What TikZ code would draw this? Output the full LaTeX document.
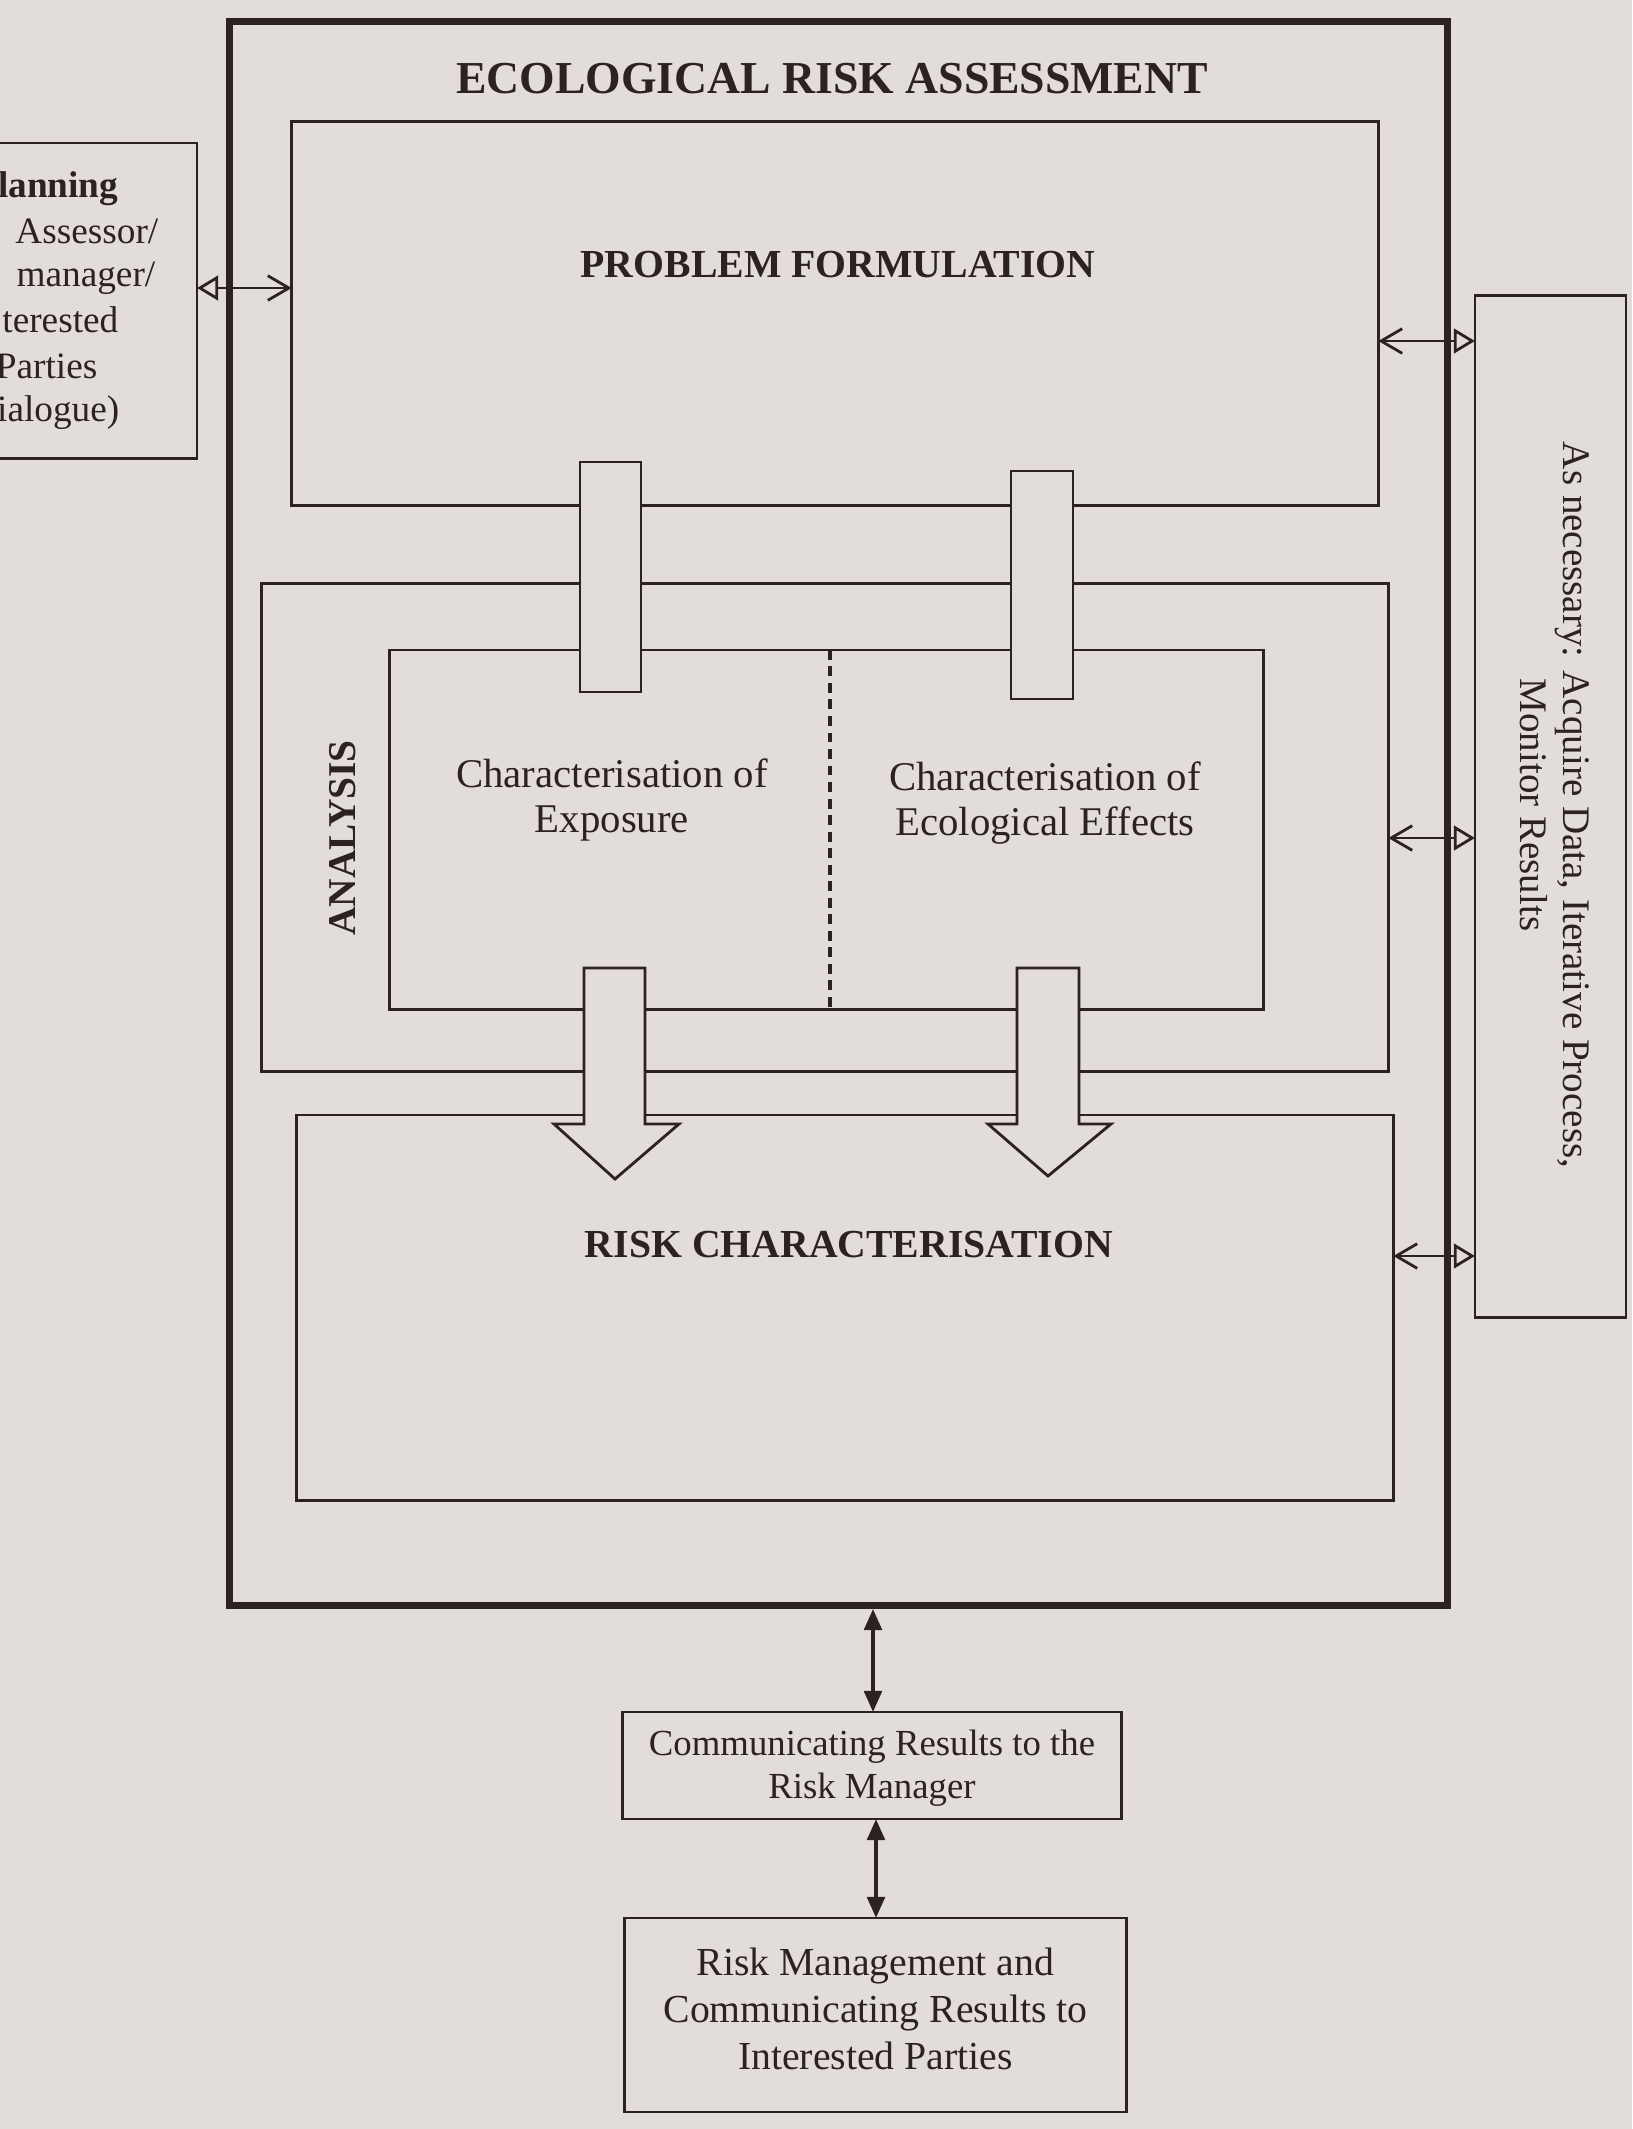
\documentclass[tikz,border=0pt]{standalone}
\usepackage{fontspec}
\setmainfont{Liberation Serif}
\usetikzlibrary{arrows.meta}
\definecolor{paper}{RGB}{226,221,219}
\definecolor{ink}{RGB}{45,34,34}

\tikzset{
  thinline/.style={draw=ink, line width=0.8pt},
  box/.style={thinline, rectangle, inner sep=0pt, outer sep=0pt},
  frame/.style={draw=ink, line width=2pt, rectangle, inner sep=0pt, outer sep=0pt},
  body/.style={font=\fontsize{11}{12.6}\selectfont, align=center, text=ink, inner sep=0pt},
  planline/.style={font=\fontsize{10.6}{12.8}\selectfont, text=ink, inner sep=0pt, anchor=base east},
  head/.style={font=\bfseries\fontsize{11.3}{13}\selectfont, text=ink, inner sep=0pt},
  linkL/.style={thinline, {Triangle[open,length=6pt,width=7pt]}-{Straight Barb[length=6pt,width=7pt]}},
  linkR/.style={thinline, {Straight Barb[length=6pt,width=7pt]}-{Triangle[open,length=6pt,width=7pt]}},
  both/.style={draw=ink, line width=1.1pt, {Triangle[length=6pt,width=5pt]}-{Triangle[length=6pt,width=5pt]}},
  blockarrow/.style={thinline, fill=paper, line join=miter},
}

\begin{document}
\begin{tikzpicture}[x=0.01cm, y=-0.01cm]
\useasboundingbox (0,0) rectangle (1632,2129);
\fill[paper] (0,0) rectangle (1632,2129);
\clip (0,0) rectangle (1632,2129);

% outer assessment frame and its title
\node[frame, minimum width=12.17cm, minimum height=15.83cm] (era) at (838.5,813.5) {};
\node[head, font=\bfseries\fontsize{13}{15}\selectfont] (title) at (832,79) {ECOLOGICAL RISK ASSESSMENT};

% problem formulation
\node[box, minimum width=10.86cm, minimum height=3.83cm] (pf) at (835,313.5) {};
\node[head] (pft) at (838,265) {PROBLEM FORMULATION};

% planning dialogue box on the left, running off the page edge
\node[box, minimum width=2.57cm, minimum height=3.15cm] (plan) at (68.5,300.5) {};
\node[planline, font=\bfseries\fontsize{10.6}{12.8}\selectfont] (pl1) at (119,197) {lanning};
\node[planline] (pl2) at (159,243) {Assessor/};
\node[planline] (pl3) at (156,286) {manager/};
\node[planline] (pl4) at (119,332) {terested};
\node[planline] (pl5) at (98,378) {Parties};
\node[planline] (pl6) at (120,421) {ialogue)};

% side box on the right
\node[box, minimum width=1.51cm, minimum height=10.21cm] (side) at (1550.5,806.5) {};
\node[body, font=\fontsize{11.1}{12.2}\selectfont, rotate=-90] (sidet) at (1555,805)
  {As necessary: Acquire Data, Iterative Process,\\Monitor Results};

% analysis
\node[box, minimum width=11.26cm, minimum height=4.87cm] (an) at (825,827.5) {};
\node[body, font=\bfseries\fontsize{11.2}{13}\selectfont, rotate=90] (ant) at (343,838) {ANALYSIS};
\node[box, minimum width=8.73cm, minimum height=3.59cm] (inner) at (826.5,829.5) {};
\coordinate (div) at (830,829.5);
\draw[thinline, line width=1pt, dash pattern=on 2.8pt off 1.9pt] (inner.north -| div) -- (inner.south -| div);
\node[body, font=\fontsize{11.6}{13}\selectfont] (expt) at (612,800) {Characterisation of\\Exposure};
\node[body, font=\fontsize{11.6}{13}\selectfont] (efft) at (1045,803) {Characterisation of\\Ecological Effects};

% risk characterisation
\node[box, minimum width=10.96cm, minimum height=3.85cm] (rc) at (845,1307.5) {};
\node[head] (rct) at (849,1245) {RISK CHARACTERISATION};

% connecting bars from problem formulation into the analysis
\node[box, fill=paper, minimum width=0.61cm, minimum height=2.30cm] (barA) at (610.5,577) {};
\node[box, fill=paper, minimum width=0.62cm, minimum height=2.28cm] (barB) at (1042,585) {};

% block arrows from the analysis down into risk characterisation
\draw[blockarrow] (584,968) -- (645,968) -- (645,1124) -- (679,1124) -- (615,1179)
  -- (554,1124) -- (584,1124) -- cycle;
\draw[blockarrow] (1017,968) -- (1079,968) -- (1079,1124) -- (1111,1124) -- (1048,1176)
  -- (988,1124) -- (1017,1124) -- cycle;

% two-way links to the side boxes
\coordinate (y0) at (0,288);
\coordinate (y1) at (0,341);
\coordinate (y2) at (0,838);
\coordinate (y3) at (0,1256);
\draw[linkL] (plan.east |- y0) -- (pf.west |- y0);
\draw[linkR] (pf.east |- y1) -- (side.west |- y1);
\draw[linkR] (an.east |- y2) -- (side.west |- y2);
\draw[linkR] (rc.east |- y3) -- (side.west |- y3);

% communication boxes below
\node[box, minimum width=4.98cm, minimum height=1.07cm] (cr) at (872,1765.5) {};
\node[body, font=\fontsize{10.45}{12.4}\selectfont] (crt) at (872,1768)
  {Communicating Results to the\\Risk Manager};
\node[box, minimum width=5.01cm, minimum height=1.94cm] (rm) at (875.5,2015) {};
\node[body, font=\fontsize{11.3}{13.4}\selectfont] (rmt) at (875.5,2009)
  {Risk Management and\\Communicating Results to\\Interested Parties};

\coordinate (xa) at (873,0);
\coordinate (xb) at (876,0);
\draw[both] ([yshift=-1pt]era.south -| xa) -- (cr.north -| xa);
\draw[both] (cr.south -| xb) -- (rm.north -| xb);
\end{tikzpicture}
\end{document}
